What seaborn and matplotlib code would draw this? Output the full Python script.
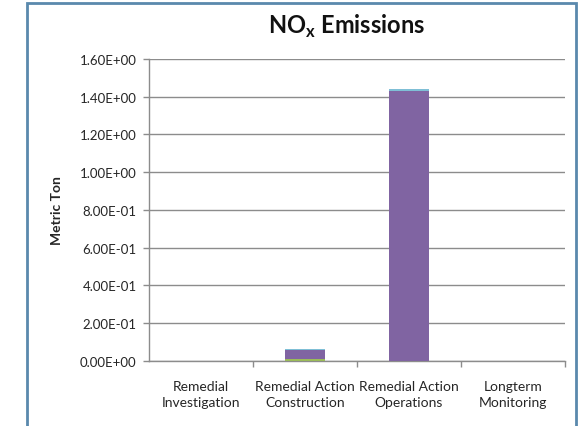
import matplotlib
matplotlib.use("Agg")
import matplotlib.pyplot as plt
import seaborn as sns
import numpy as np
import pandas as pd
from matplotlib.patches import Rectangle

categories = ["Remedial\nInvestigation", "Remedial Action\nConstruction",
              "Remedial Action\nOperations", "Longterm\nMonitoring"]
green_vals = [0.0, 0.008, 0.001, 0.0]
purple_vals = [0.0, 0.049, 1.430, 0.0]
aqua_vals = [0.0, 0.005, 0.010, 0.0]
y_ticks = [0.0, 0.2, 0.4, 0.6, 0.8, 1.0, 1.2, 1.4, 1.6]

sns.set_theme(style="white")
plt.rcParams["font.family"] = ["Lato", "DejaVu Sans"]
plt.rcParams["mathtext.fontset"] = "custom"
plt.rcParams["mathtext.rm"] = "Lato"
plt.rcParams["mathtext.bf"] = "Lato:bold"

fig = plt.figure(figsize=(5.88, 4.27), dpi=100)
ax = fig.add_axes([149/588, 1-361.7/427, (565-149)/588, (361.7-60)/427])

g = np.array(green_vals)
p = np.array(purple_vals)
a = np.array(aqua_vals)
layers = [(g + p + a, "#7fbfd6"), (g + p, "#8064A2"), (g, "#9BBB59")]
for vals, col in layers:
    df = pd.DataFrame({"cat": categories, "val": vals})
    sns.barplot(data=df, x="cat", y="val", color=col, saturation=1, width=0.39,
                ax=ax, errorbar=None, linewidth=0, zorder=3)

ax.set_ylim(0, 1.6)
ax.set_xlim(-0.5, 3.5)
ax.set_yticks(y_ticks)
ax.set_yticklabels([f"{v:.2E}" for v in y_ticks], fontsize=9.5, color="#262626")
ax.set_xticks(range(4))
ax.set_xticklabels(categories, fontsize=10, color="#262626", linespacing=1.35)
ax.set_xlabel("")
ax.set_ylabel("Metric Ton", fontsize=10, fontweight="bold", labelpad=12)
ax.yaxis.grid(True, color="#8c8c8c", linewidth=1)
ax.set_axisbelow(True)
ax.tick_params(axis="x", length=0, pad=14)
ax.tick_params(axis="y", length=4, width=1, color="#8c8c8c", left=True, pad=5)
ax.set_xticks([0.5, 1.5, 2.5, 3.5], minor=True)
ax.tick_params(axis="x", which="minor", length=4, width=1, color="#8c8c8c", bottom=True)
for s in ["top", "right"]:
    ax.spines[s].set_visible(False)
for s in ["left", "bottom"]:
    ax.spines[s].set_color("#8c8c8c")
    ax.spines[s].set_linewidth(1)

fig.text(347/588, 1-26/427, r"NO$_\mathbf{x}$ Emissions", ha="center", va="center",
         fontsize=17, fontweight="bold", color="#111111")

frame = Rectangle((27/588, -0.1), (576-27)/588, 1.1 - 4/427, transform=fig.transFigure,
                  fill=False, edgecolor="#5a89ad", linewidth=2, clip_on=False)
fig.patches.append(frame)

fig.savefig("out.png", dpi=100)
